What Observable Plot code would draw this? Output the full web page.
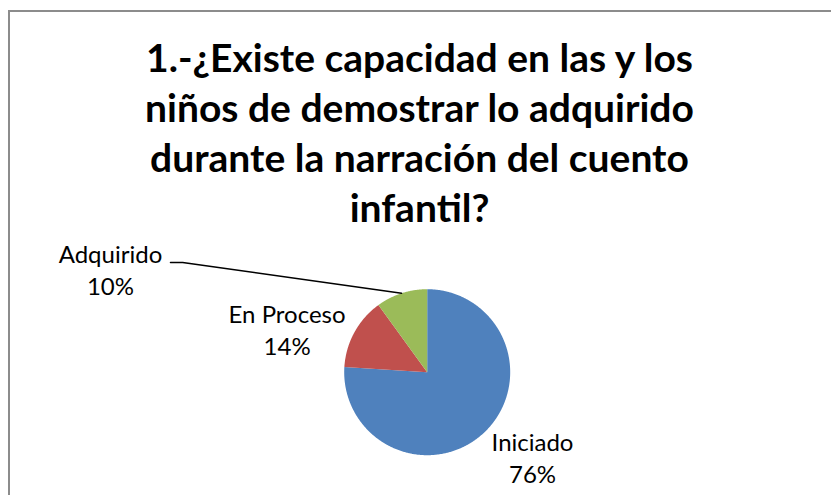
<!DOCTYPE html>
<html>
<head>
<meta charset="utf-8">
<script src="https://cdn.jsdelivr.net/npm/d3@7"></script>
<script src="https://cdn.jsdelivr.net/npm/@observablehq/plot@0.6"></script>
<style>
  html, body { margin: 0; padding: 0; background: #fff; overflow: hidden; width: 831px; height: 495px; }
  #frame { position: absolute; left: 8px; top: 10px; width: 900px; height: 600px;
           border-left: 2px solid #8c8c8c; border-top: 2px solid #8c8c8c; pointer-events: none; }
  #title { position: relative; margin-left: 8px; width: 823px; height: 240px; box-sizing: border-box;
           padding-top: 32px; text-align: center; font-family: Lato, "Open Sans", sans-serif;
           font-weight: bold; font-size: 39px; line-height: 50px; color: #000; }
  #chart { position: relative; }
  #chart svg { display: block; }
</style>
</head>
<body>
<div id="frame"></div>
<div id="title">1.-¿Existe capacidad en las y los<br>niños de demostrar lo adquirido<br>durante la narración del cuento<br>infantil?</div>
<div id="chart"></div>
<script>
// ---- data ----
const categories = ["Iniciado", "En Proceso", "Adquirido"];
const values = [76, 14, 10];
const colors = ["#4F81BD", "#C0504D", "#9BBB59"];

// ---- layout (pixels / radius units, not data) ----
const W = 831, H = 255;           // svg size
const cx = 426.7, cy = 131.7, R = 83;  // pie centre and radius in svg pixels
const labelLayout = {              // label anchor (baseline of last line) in radius units
  "Iniciado":   {x: 1.269,  y: -1.329},
  "En Proceso": {x: -1.688, y: 0.213},
  "Adquirido":  {x: -3.816, y: 0.936}
};
const leaderStart = {"Adquirido": [[-3.093, 1.322], [-2.946, 1.322]]};

// ---- build slices ----
const total = d3.sum(values);
const pie = d3.pie().sort(null).value(d => d.value)(categories.map((c, i) => ({name: c, value: values[i]})));
const polys = [];
for (const a of pie) {
  const name = a.data.name;
  polys.push({name, x: 0, y: 0});
  const n = Math.max(2, Math.ceil((a.endAngle - a.startAngle) / (Math.PI / 360)));
  for (let k = 0; k <= n; k++) {
    const t = a.startAngle + (a.endAngle - a.startAngle) * k / n;
    polys.push({name, x: Math.sin(t), y: Math.cos(t)});
  }
  polys.push({name, x: 0, y: 0});
}
const labels = pie.map(a => ({
  name: a.data.name,
  text: `${a.data.name}\n${Math.round(a.data.value / total * 100)}%`,
  x: labelLayout[a.data.name].x,
  y: labelLayout[a.data.name].y
}));
const leaders = [];
for (const a of pie) {
  const st = leaderStart[a.data.name];
  if (!st) continue;
  const mid = (a.startAngle + a.endAngle) / 2;
  for (const p of st) leaders.push({name: a.data.name, x: p[0], y: p[1]});
  leaders.push({name: a.data.name, x: Math.sin(mid), y: Math.cos(mid)});
}

const chart = Plot.plot({
  width: W, height: H,
  margin: 0,
  x: {domain: [-cx / R, (W - cx) / R], axis: null},
  y: {domain: [-(H - cy) / R, cy / R], axis: null},
  color: {domain: categories, range: colors},
  style: {background: "transparent", overflow: "visible"},
  marks: [
    Plot.line(polys, {x: "x", y: "y", z: "name", fill: "name", stroke: "none"}),
    Plot.line(leaders, {x: "x", y: "y", z: "name", stroke: "#000", strokeWidth: 1.5}),
    Plot.text(labels, {x: "x", y: "y", text: "text", lineAnchor: "bottom", textAnchor: "middle",
      lineHeight: 32 / 24, fontSize: 24, fill: "#000",
      fontFamily: "Lato, 'Open Sans', sans-serif"})
  ]
});
document.getElementById("chart").appendChild(chart);
</script>
</body>
</html>
